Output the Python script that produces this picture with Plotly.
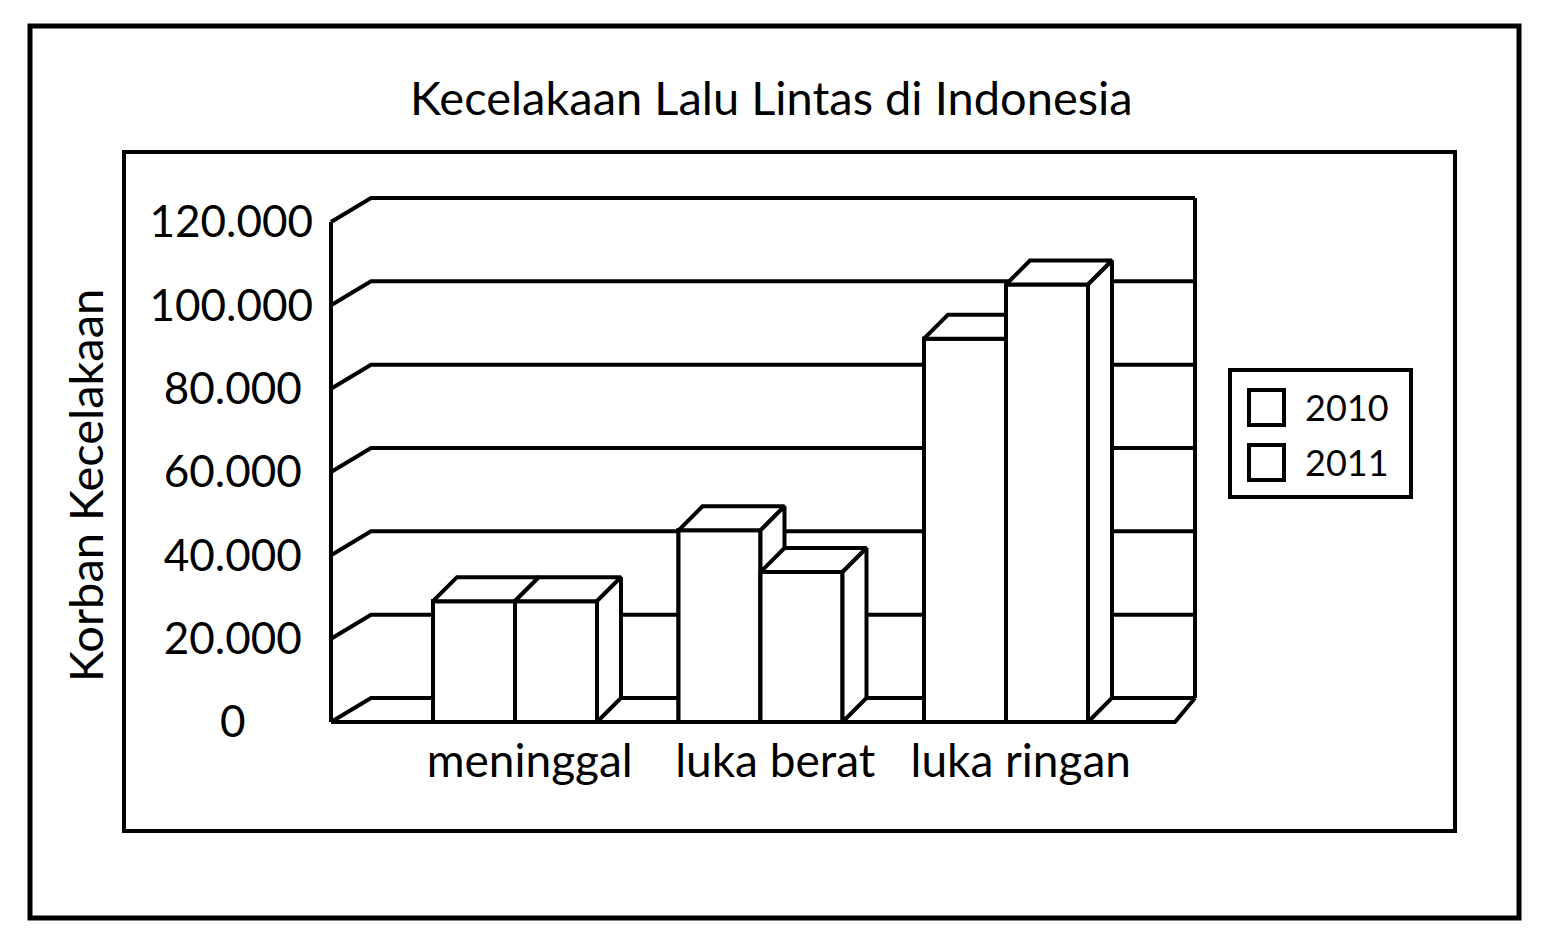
import plotly.graph_objects as go

# ---------------- data ----------------
categories = ["meninggal", "luka berat", "luka ringan"]
series_names = ["2010", "2011"]
values_2010 = [29000, 46000, 92000]
values_2011 = [29000, 36000, 105000]
y_tick_values = [0, 20000, 40000, 60000, 80000, 100000, 120000]
y_tick_labels = ["0", "20.000", "40.000", "60.000", "80.000", "100.000", "120.000"]
title_text = "Kecelakaan Lalu Lintas di Indonesia"
y_title_text = "Korban Kecelakaan"

# ---------------- layout geometry (pixels) ----------------
W, H = 1564, 948
L, R, T, B = 322, 349, 185, 218
CAT0_PX, CAT_STEP_PX = 515.0, 245.5      # pixel x of first category, px per category
ZERO_PX, Y_MAX = 722.0, 120000.0
PX_PER_Y = 500.0 / Y_MAX                  # 120000 -> 500 px

FONT = "Lato, 'Open Sans', sans-serif"
INK = "#000000"
LW = 4
TICK_SIZE = 44


def px_to_x(p):
    return (p - CAT0_PX) / CAT_STEP_PX


def py_to_y(p):
    return (ZERO_PX - p) / PX_PER_Y


def paper_x(p):
    return (p - L) / (W - L - R)


def paper_y(p):
    return 1 - (p - T) / (H - T - B)


x_range = [px_to_x(L), px_to_x(W - R)]
y_range = [py_to_y(H - B), py_to_y(T)]

# wall / floor depth
wall_left = px_to_x(331)
wall_back_left = px_to_x(371)
wall_back_right = px_to_x(1195)
floor_front_right = px_to_x(1175)
wall_dy = 24 / PX_PER_Y

# bars
bar_w = 82 / CAT_STEP_PX
bar_dx = 24 / CAT_STEP_PX
bar_dy = 24 / PX_PER_Y

fig = go.Figure()

# ---------------- walls and gridlines (shapes below traces) ----------------
shapes = []


def line_path(pts, layer="below"):
    d = "M " + " L ".join(f"{x:.5f},{y:.3f}" for x, y in pts)
    return dict(type="path", path=d, xref="x", yref="y", layer=layer,
                line=dict(color=INK, width=LW))


for v in y_tick_values:
    shapes.append(line_path([(wall_left, v), (wall_back_left, v + wall_dy),
                             (wall_back_right, v + wall_dy)]))
# front axis line
shapes.append(line_path([(wall_left, 0), (wall_left, Y_MAX)]))
# right back edge
shapes.append(line_path([(wall_back_right, wall_dy), (wall_back_right, Y_MAX + wall_dy)]))
# front floor edge
shapes.append(line_path([(wall_left, 0), (floor_front_right, 0), (wall_back_right, wall_dy)]))

# ---------------- bars ----------------
all_values = [values_2010, values_2011]
offsets = [-bar_w, 0.0]
xpos = list(range(len(categories)))
for s, (name, vals) in enumerate(zip(series_names, all_values)):
    fig.add_trace(go.Bar(
        x=xpos, y=vals, name=name, width=bar_w, offset=offsets[s],
        marker=dict(color="white", line=dict(color=INK, width=LW)),
        showlegend=False, hoverinfo="skip"))

# 3D faces, painter order left to right
for g in xpos:
    for s, vals in enumerate(all_values):
        v = vals[g]
        x0 = g + offsets[s]
        x1 = x0 + bar_w
        faces = [
            [(x0, 0), (x1, 0), (x1, v), (x0, v), (x0, 0)],
            [(x0, v), (x1, v), (x1 + bar_dx, v + bar_dy), (x0 + bar_dx, v + bar_dy), (x0, v)],
            [(x1, 0), (x1 + bar_dx, bar_dy), (x1 + bar_dx, v + bar_dy), (x1, v), (x1, 0)],
        ]
        for f in faces:
            fig.add_trace(go.Scatter(
                x=[p[0] for p in f], y=[p[1] for p in f], mode="lines",
                fill="toself", fillcolor="white",
                line=dict(color=INK, width=LW), showlegend=False,
                hoverinfo="skip"))

# ---------------- frames ----------------
def paper_rect(x0, y0, x1, y1, width):
    return dict(type="rect", xref="paper", yref="paper", layer="above",
                x0=paper_x(x0), x1=paper_x(x1), y0=paper_y(y0), y1=paper_y(y1),
                line=dict(color=INK, width=width), fillcolor="rgba(0,0,0,0)")


shapes.append(paper_rect(30, 26, 1519, 918, 5))
shapes.append(paper_rect(124, 152, 1455, 831, 4))

# legend (manual)
shapes.append(paper_rect(1230, 370, 1411, 497, 4))
legend_rows_px = [407, 462]
annotations = []
for name, yc in zip(series_names, legend_rows_px):
    shapes.append(paper_rect(1249, yc - 17, 1284, yc + 18, 4))
    annotations.append(dict(text=name, x=paper_x(1303), y=paper_y(yc), xref="paper", yref="paper",
                            xanchor="left", yanchor="middle", showarrow=False,
                            font=dict(family=FONT, size=36, color=INK)))

annotations.append(dict(text=title_text, x=paper_x(771), y=paper_y(97), xref="paper", yref="paper",
                        xanchor="center", yanchor="middle", showarrow=False,
                        font=dict(family=FONT, size=47, color=INK)))
annotations.append(dict(text=y_title_text, x=paper_x(85), y=paper_y(485), xref="paper", yref="paper",
                        xanchor="center", yanchor="middle", showarrow=False, textangle=-90,
                        font=dict(family=FONT, size=47, color=INK)))

# centre-align y tick labels by padding with non-breaking spaces
DIGIT_W, DOT_W, NBSP_W = 0.58 * TICK_SIZE, 0.2 * TICK_SIZE, 0.26 * TICK_SIZE


def label_w(t):
    return sum(DIGIT_W if c.isdigit() else DOT_W for c in t)


widest = max(label_w(t) for t in y_tick_labels)
padded = [t + "\u00a0" * int(round((widest - label_w(t)) / 2 / NBSP_W)) for t in y_tick_labels]

fig.update_layout(
    width=W, height=H,
    margin=dict(l=L, r=R, t=T, b=B, autoexpand=False),
    paper_bgcolor="white", plot_bgcolor="white",
    barmode="overlay",
    shapes=shapes, annotations=annotations,
    showlegend=False,
    xaxis=dict(range=x_range, showgrid=False, zeroline=False, showline=False,
               tickmode="array", tickvals=[g + 0.06 for g in xpos], ticktext=categories,
               ticks="", ticklabelstandoff=0,
               tickfont=dict(family=FONT, size=46, color=INK), fixedrange=True),
    yaxis=dict(range=y_range, showgrid=False, zeroline=False, showline=False,
               tickmode="array", tickvals=y_tick_values, ticktext=padded,
               ticks="", ticklabelstandoff=8,
               tickfont=dict(family=FONT, size=TICK_SIZE, color=INK), fixedrange=True),
)

fig.write_html("out.html")
